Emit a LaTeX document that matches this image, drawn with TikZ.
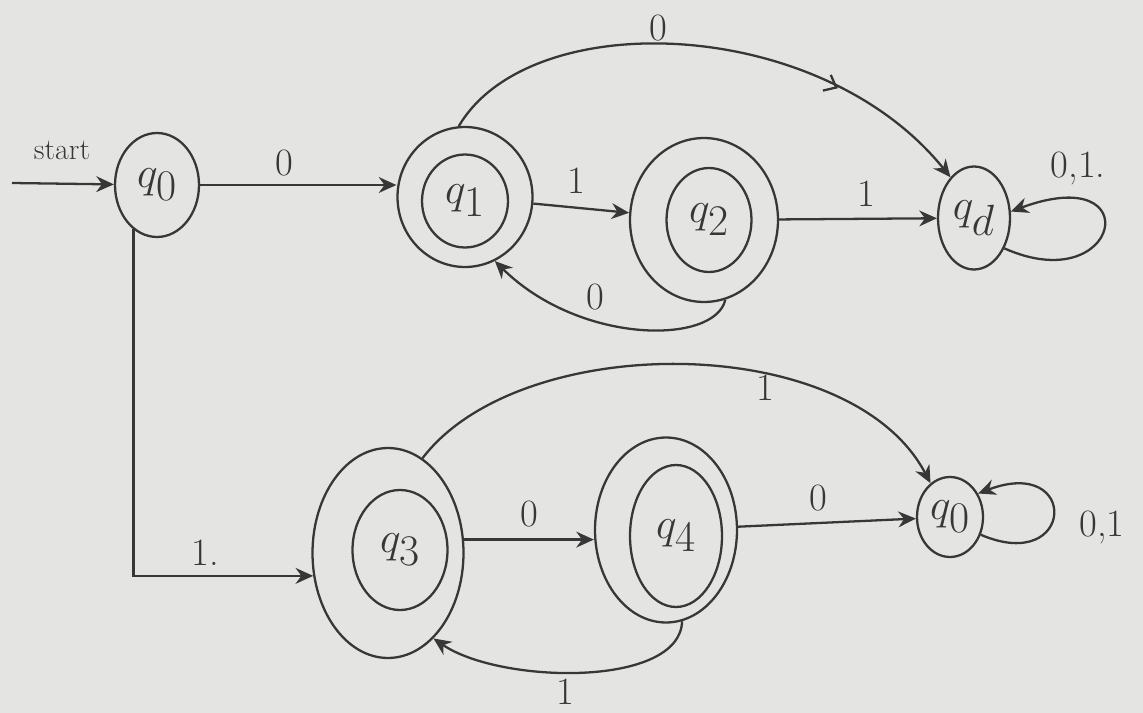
\documentclass[tikz,border=0pt]{standalone}
\usepackage{amsmath,amssymb}
\usepackage{tikz}
\usetikzlibrary{shapes.geometric}
\usetikzlibrary{arrows.meta}
\usetikzlibrary{decorations.markings}
\usetikzlibrary{positioning}
\usepackage{xcolor}
\definecolor{paper}{RGB}{228,228,226}
\definecolor{ink}{RGB}{55,55,55}

\begin{document}
\begin{tikzpicture}[x=0.02cm,y=-0.02cm,
  line width=1.3pt, draw=ink, text=ink,
  ring/.style={ellipse, draw, inner sep=0pt},
  edge/.style={draw=ink, -{Stealth[length=10pt,width=9pt]}},
  midarrow/.style={postaction={decorate}, decoration={markings,
    mark=at position 0.74 with {\arrow{Straight Barb[length=6pt,width=10pt]}}}},
  statelbl/.style={font=\fontsize{34}{38}\selectfont},
  lbl/.style={font=\fontsize{22}{26}\selectfont, text=ink}]
\fill[paper] (0,0) rectangle (1143,713);
\useasboundingbox (0,0) rectangle (1143,713);

\node[ring, minimum width=1.68cm, minimum height=2.08cm, statelbl] (q0) at (157,185) {$q_0$};
\node[ring, minimum width=2.7cm, minimum height=2.8cm] (q1) at (465,197) {};
\node[ring, minimum width=1.72cm, minimum height=1.86cm, statelbl] (q1in) at (465,201) {$q_1$};
\node[ring, minimum width=2.96cm, minimum height=3.28cm] (q2) at (704,220) {};
\node[ring, minimum width=1.7cm, minimum height=2.08cm, statelbl] (q2in) at (709,220) {$q_2$};
\node[ring, minimum width=1.44cm, minimum height=2.06cm, statelbl] (qd) at (974,218) {$q_d$};
\node[ring, minimum width=3.02cm, minimum height=4.2cm] (q3) at (388,553) {};
\node[ring, minimum width=1.9cm, minimum height=2.4cm, statelbl] (q3in) at (400,550) {$q_3$};
\node[ring, minimum width=2.84cm, minimum height=3.7cm] (q4) at (666,530) {};
\node[ring, minimum width=1.84cm, minimum height=2.84cm, statelbl] (q4in) at (676,536) {$q_4$};
\node[ring, minimum width=1.32cm, minimum height=1.6cm, statelbl] (qt) at (950,517) {$q_0$};

\coordinate (startpt) at (12,183);
\node[font=\fontsize{17}{20}\selectfont, text=ink] (startlbl) at (62,150) {start};
\draw[edge] (startpt) -- (q0);

\draw[edge] (q0.east) -- (q1.west |- q0.east) node[lbl, pos=0.43, above=1pt] {0};
\draw[edge] (q1) -- (q2) node[lbl, pos=0.45, above=4pt] {1};
\draw[edge] (q2) -- (qd) node[lbl, pos=0.55, above=3pt] {1};
\draw[edge] (q2.-75) .. controls (715,345) and (580,345) .. (q1.-65);
\node[lbl] (l21) at (595,297) {0};
\draw[edge, midarrow] (q1.95) .. controls (530,5) and (820,15) .. (qd.120);
\node[lbl] (l1d) at (658,28) {0};
\draw[edge] (qd.-45) .. controls (1120,300) and (1150,160) .. (qd.10);
\node[lbl] (qdloop) at (1078,168) {0,1.};

\draw[edge] (q0.-118) |- (q3.197) node[lbl, pos=0.7, above=2pt] {1.};
\draw[edge] (q3.10) -- (q4.west |- q3.10) node[lbl, midway, above=3pt] {0};
\draw[edge] (q4.-80) .. controls (680,688) and (500,684) .. (q3.-62);
\node[lbl, inner sep=0pt] (l43) at (565,692) {1};
\draw[edge] (q3.70) .. controls (520,330) and (850,330) .. (qt.120);
\node[lbl] (l3t) at (765,388) {1};
\draw[edge] (q4) -- (qt) node[lbl, pos=0.45, above=3pt] {0};
\draw[edge] (qt.-30) .. controls (1075,575) and (1080,455) .. (qt.40);
\node[lbl] (qtloop) at (1102,527) {0,1};

\end{tikzpicture}
\end{document}
